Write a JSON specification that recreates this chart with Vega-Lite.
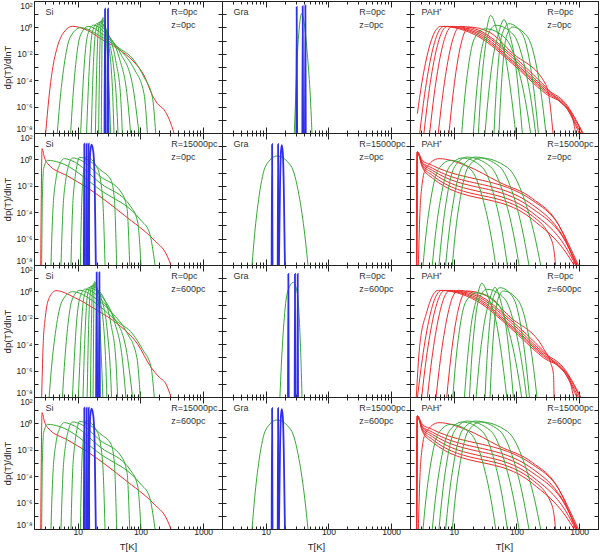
{
"$schema":"https://vega.github.io/schema/vega-lite/v6.json",
"padding":{"left":2,"top":0,"right":2,"bottom":0},
"columns":3,
"spacing":0,
"bounds":"flush",
"config":{
 "font":"Liberation Sans",
 "view":{"stroke":"#222","strokeWidth":1},
 "concat":{"spacing":0},
 "axis":{"grid":false,"domain":false,"tickColor":"#222","tickSize":-4,"labelFontSize":8.5,"labelColor":"#222","labelPadding":6,"titleFontSize":9.5,"titleFontWeight":"normal","titleColor":"#222","titlePadding":3,"labelOverlap":false,"labelFlush":false},
 "text":{"align":"left","baseline":"middle","fontSize":9,"color":"#333"},
 "line":{"interpolate":"monotone","clip":true}
},
"datasets":{
"a":[
{"s":1,"T":3.07,"v":1e-8},{"s":1,"T":3.47,"v":5.2e-6},{"s":1,"T":3.92,"v":5.5e-4},{"s":1,"T":4.71,"v":0.032},{"s":1,"T":6.03,"v":0.45},{"s":1,"T":8.18,"v":1.2},{"s":1,"T":14.2,"v":0.6},{"s":1,"T":23.2,"v":0.14},{"s":1,"T":42.8,"v":0.025},{"s":1,"T":78.9,"v":0.0024},{"s":1,"T":114,"v":2.3e-4},{"s":1,"T":155,"v":7.2e-6},{"s":1,"T":186,"v":1.7e-6},{"s":1,"T":237,"v":5.9e-7},{"s":1,"T":285,"v":1.2e-7},{"s":1,"T":343,"v":1e-8},
{"s":11,"T":4.71,"v":1e-8},{"s":11,"T":5.14,"v":1.6e-6},{"s":11,"T":6.04,"v":1.3e-3},{"s":11,"T":7.57,"v":0.18},{"s":11,"T":11.1,"v":0.95},{"s":11,"T":23.2,"v":0.21},{"s":11,"T":42.8,"v":0.032},{"s":11,"T":78.9,"v":3.2e-3},{"s":11,"T":114,"v":1.7e-4},{"s":11,"T":155,"v":5.2e-6},{"s":11,"T":175,"v":1e-8},
{"s":12,"T":7.69,"v":1e-8},{"s":12,"T":8.22,"v":1.7e-6},{"s":12,"T":9.25,"v":1.5e-3},{"s":12,"T":10.9,"v":0.22},{"s":12,"T":14.6,"v":1.2},{"s":12,"T":26.2,"v":0.25},{"s":12,"T":48.3,"v":0.018},{"s":12,"T":78.9,"v":7.4e-4},{"s":12,"T":114,"v":9.3e-6},{"s":12,"T":129,"v":1e-8},
{"s":13,"T":11.1,"v":1e-8},{"s":13,"T":11.7,"v":1.9e-6},{"s":13,"T":12.7,"v":1.7e-3},{"s":13,"T":14.4,"v":0.28},{"s":13,"T":17.7,"v":1.5},{"s":13,"T":29.6,"v":0.25},{"s":13,"T":48.3,"v":0.01},{"s":13,"T":74.1,"v":5.5e-5},{"s":13,"T":94.6,"v":1e-8},
{"s":14,"T":13.8,"v":1e-8},{"s":14,"T":14.4,"v":2e-6},{"s":14,"T":15.4,"v":2e-3},{"s":14,"T":16.9,"v":0.34},{"s":14,"T":20.0,"v":1.9},{"s":14,"T":29.6,"v":0.34},{"s":14,"T":45.4,"v":5.8e-3},{"s":14,"T":61.7,"v":5.2e-6},{"s":14,"T":69.7,"v":1e-8},
{"s":15,"T":16.4,"v":1e-8},{"s":15,"T":16.9,"v":2.1e-6},{"s":15,"T":17.8,"v":2.3e-3},{"s":15,"T":19.2,"v":0.43},{"s":15,"T":21.8,"v":2.4},{"s":15,"T":29.6,"v":0.45},{"s":15,"T":40.2,"v":3.2e-3},{"s":15,"T":48.3,"v":5.2e-6},{"s":15,"T":51.3,"v":1e-8},
{"s":16,"T":19.1,"v":1e-8},{"s":16,"T":19.5,"v":2.2e-6},{"s":16,"T":20.2,"v":2.7e-3},{"s":16,"T":21.2,"v":0.52},{"s":16,"T":23.2,"v":3.0},{"s":16,"T":28.5,"v":0.3},{"s":16,"T":37.8,"v":5.6e-4},{"s":16,"T":41.7,"v":1.7e-6},{"s":16,"T":43.8,"v":1e-8},
{"s":17,"T":21.5,"v":1e-8},{"s":17,"T":21.8,"v":2.4e-6},{"s":17,"T":22.3,"v":3.2e-3},{"s":17,"T":23.0,"v":0.66},{"s":17,"T":24.3,"v":3.9},{"s":17,"T":29.6,"v":0.19},{"s":17,"T":35.6,"v":3e-5},{"s":17,"T":37.8,"v":1e-8},
{"s":18,"T":23.7,"v":1e-8},{"s":18,"T":23.9,"v":2.7e-6},{"s":18,"T":24.2,"v":3.9e-3},{"s":18,"T":24.5,"v":0.89},{"s":18,"T":25.2,"v":5.5},{"s":18,"T":28.9,"v":0.059},{"s":18,"T":31.8,"v":5.2e-6},{"s":18,"T":33.4,"v":1e-8},
{"s":31,"T":26.7,"v":1e-8},{"s":31,"T":27.2,"v":26},{"s":31,"T":27.7,"v":1e-8},
{"s":32,"T":29.8,"v":1e-8},{"s":32,"T":30.3,"v":26},{"s":32,"T":30.9,"v":1e-8}
],
"b":[
{"s":11,"T":28.5,"v":1e-8},{"s":11,"T":30.0,"v":5.4e-6},{"s":11,"T":31.8,"v":5.7e-3},{"s":11,"T":34.3,"v":1.07},{"s":11,"T":37.3,"v":11},{"s":11,"T":41.1,"v":1.9},{"s":11,"T":45.9,"v":0.01},{"s":11,"T":50.7,"v":1.7e-5},{"s":11,"T":54.6,"v":1e-8},
{"s":31,"T":30.7,"v":1e-8},{"s":31,"T":31.1,"v":35},{"s":31,"T":31.6,"v":1e-8},
{"s":32,"T":38.3,"v":1e-8},{"s":32,"T":38.8,"v":40},{"s":32,"T":39.4,"v":1e-8},
{"s":33,"T":42.2,"v":1e-8},{"s":33,"T":42.8,"v":47},{"s":33,"T":43.4,"v":1e-8}
],
"c":[
{"s":1,"T":2.62,"v":2.9e-7},{"s":1,"T":3.10,"v":6.9e-5},{"s":1,"T":4.02,"v":0.027},{"s":1,"T":5.2,"v":0.66},{"s":1,"T":6.17,"v":1.2},{"s":1,"T":25.2,"v":0.19},{"s":1,"T":85.9,"v":1.8e-3},{"s":1,"T":292,"v":9.5e-6},{"s":1,"T":610,"v":9.3e-7},{"s":1,"T":995,"v":1e-8},
{"s":2,"T":2.86,"v":1e-8},{"s":2,"T":3.42,"v":8.1e-6},{"s":2,"T":4.47,"v":0.0115},{"s":2,"T":5.83,"v":0.58},{"s":2,"T":6.98,"v":1.2},{"s":2,"T":25.2,"v":0.25},{"s":2,"T":85.9,"v":2.4e-3},{"s":2,"T":292,"v":1.3e-5},{"s":2,"T":610,"v":1e-6},{"s":2,"T":1057,"v":1e-8},
{"s":3,"T":3.34,"v":1e-8},{"s":3,"T":3.96,"v":8.1e-6},{"s":3,"T":5.13,"v":0.0115},{"s":3,"T":6.64,"v":0.58},{"s":3,"T":7.87,"v":1.2},{"s":3,"T":25.2,"v":0.33},{"s":3,"T":85.9,"v":3.2e-3},{"s":3,"T":292,"v":1.7e-5},{"s":3,"T":610,"v":1.3e-6},{"s":3,"T":1122,"v":1e-8},
{"s":4,"T":4.12,"v":1e-8},{"s":4,"T":4.86,"v":8.1e-6},{"s":4,"T":6.25,"v":0.0115},{"s":4,"T":8.02,"v":0.58},{"s":4,"T":9.47,"v":1.2},{"s":4,"T":25.2,"v":0.45},{"s":4,"T":85.9,"v":5.1e-3},{"s":4,"T":292,"v":2.3e-5},{"s":4,"T":610,"v":1.7e-6},{"s":4,"T":1151,"v":1e-8},
{"s":5,"T":5.66,"v":1e-8},{"s":5,"T":6.67,"v":8.1e-6},{"s":5,"T":8.53,"v":0.0115},{"s":5,"T":10.9,"v":0.58},{"s":5,"T":12.9,"v":1.2},{"s":5,"T":25.2,"v":0.6},{"s":5,"T":85.9,"v":7.6e-3},{"s":5,"T":292,"v":3.1e-5},{"s":5,"T":525,"v":1.7e-6},{"s":5,"T":731,"v":3.9e-7},{"s":5,"T":880,"v":1e-8},
{"s":6,"T":8.38,"v":1e-8},{"s":6,"T":9.7,"v":7.8e-6},{"s":6,"T":12.1,"v":0.0105},{"s":6,"T":15.1,"v":0.51},{"s":6,"T":17.5,"v":1.07},{"s":6,"T":36.4,"v":0.45},{"s":6,"T":85.9,"v":0.0115},{"s":6,"T":292,"v":4.9e-5},{"s":6,"T":331,"v":5.4e-6},{"s":6,"T":383,"v":1e-8},
{"s":11,"T":13.4,"v":1e-8},{"s":11,"T":14.6,"v":1.5e-6},{"s":11,"T":17.1,"v":1.1e-3},{"s":11,"T":21.4,"v":0.15},{"s":11,"T":31.5,"v":0.79},{"s":11,"T":66.7,"v":0.15},{"s":11,"T":104,"v":1.1e-3},{"s":11,"T":142,"v":1.5e-6},{"s":11,"T":168,"v":1e-8},
{"s":12,"T":20.5,"v":1e-8},{"s":12,"T":22.5,"v":3e-6},{"s":12,"T":26.4,"v":5e-3},{"s":12,"T":32.0,"v":0.3},{"s":12,"T":38.7,"v":8.1},{"s":12,"T":51.1,"v":0.3},{"s":12,"T":67.1,"v":5e-3},{"s":12,"T":84.5,"v":3e-6},{"s":12,"T":97.1,"v":1e-8},
{"s":13,"T":24.7,"v":1e-8},{"s":13,"T":26.3,"v":1.8e-6},{"s":13,"T":29.6,"v":1.7e-3},{"s":13,"T":35.0,"v":0.27},{"s":13,"T":46.6,"v":1.45},{"s":13,"T":89.9,"v":0.27},{"s":13,"T":132,"v":1.7e-3},{"s":13,"T":174,"v":1.8e-6},{"s":13,"T":202,"v":1e-8},
{"s":14,"T":31.5,"v":1e-8},{"s":14,"T":34.9,"v":2.4e-6},{"s":14,"T":41.6,"v":3.2e-3},{"s":14,"T":51.3,"v":0.3},{"s":14,"T":63.2,"v":3.9},{"s":14,"T":77.4,"v":0.3},{"s":14,"T":94.6,"v":3.2e-3},{"s":14,"T":112,"v":2.4e-6},{"s":14,"T":124,"v":1e-8},
{"s":15,"T":43.8,"v":1e-8},{"s":15,"T":46.3,"v":2e-6},{"s":15,"T":51.3,"v":2e-3},{"s":15,"T":59.3,"v":0.34},{"s":15,"T":76.0,"v":1.9},{"s":15,"T":123,"v":0.34},{"s":15,"T":164,"v":2e-3},{"s":15,"T":200,"v":2e-6},{"s":15,"T":224,"v":1e-8},
{"s":16,"T":52.6,"v":1e-8},{"s":16,"T":55.3,"v":1.7e-6},{"s":16,"T":60.7,"v":1.4e-3},{"s":16,"T":69.0,"v":0.2},{"s":16,"T":85.9,"v":1.07},{"s":16,"T":149,"v":0.2},{"s":16,"T":207,"v":1.4e-3},{"s":16,"T":260,"v":1.7e-6},{"s":16,"T":295,"v":1e-8}
],
"d":[
{"s":1,"T":2.56,"v":1e-8},{"s":1,"T":2.69,"v":6.5},{"s":1,"T":2.92,"v":1.5},{"s":1,"T":3.30,"v":0.48},{"s":1,"T":6.89,"v":0.055},{"s":1,"T":14.4,"v":6.8e-3},{"s":1,"T":55.3,"v":5.8e-5},{"s":1,"T":166,"v":7.4e-7},{"s":1,"T":256,"v":7.2e-8},{"s":1,"T":307,"v":1e-8},
{"s":11,"T":2.65,"v":1e-8},{"s":11,"T":2.72,"v":1.1e-3},{"s":11,"T":2.85,"v":0.2},{"s":11,"T":3.30,"v":0.85},{"s":11,"T":5.0,"v":0.6},{"s":11,"T":23.4,"v":4.5e-3},{"s":11,"T":102,"v":2.4e-5},{"s":11,"T":138,"v":3.2e-6},{"s":11,"T":171,"v":1e-8},
{"s":12,"T":3.73,"v":1e-8},{"s":12,"T":3.97,"v":5.8e-5},{"s":12,"T":4.49,"v":0.035},{"s":12,"T":5.07,"v":0.35},{"s":12,"T":6.10,"v":1.14},{"s":12,"T":8.0,"v":0.8},{"s":12,"T":23.4,"v":0.0145},{"s":12,"T":70.6,"v":2.5e-4},{"s":12,"T":90.2,"v":1.8e-5},{"s":12,"T":102,"v":1e-8},
{"s":13,"T":5.39,"v":1e-8},{"s":13,"T":5.74,"v":5.8e-5},{"s":13,"T":6.47,"v":0.035},{"s":13,"T":7.14,"v":0.35},{"s":13,"T":8.28,"v":1.28},{"s":13,"T":11,"v":0.9},{"s":13,"T":23.4,"v":0.047},{"s":13,"T":48.9,"v":3.4e-3},{"s":13,"T":61.0,"v":1.9e-4},{"s":13,"T":67.3,"v":1e-8},
{"s":14,"T":7.78,"v":1e-8},{"s":14,"T":8.18,"v":5.8e-5},{"s":14,"T":9.02,"v":0.035},{"s":14,"T":9.70,"v":0.35},{"s":14,"T":10.6,"v":1.43},{"s":14,"T":14,"v":1.0},{"s":14,"T":23.4,"v":0.15},{"s":14,"T":33.9,"v":0.026},{"s":14,"T":38.3,"v":1.1e-3},{"s":14,"T":41.7,"v":1e-8},
{"s":15,"T":11.0,"v":1e-8},{"s":15,"T":11.4,"v":5.8e-5},{"s":15,"T":12.1,"v":0.035},{"s":15,"T":12.7,"v":0.35},{"s":15,"T":13.5,"v":1.61},{"s":15,"T":20.7,"v":0.2},{"s":15,"T":24.9,"v":1.1e-3},{"s":15,"T":27.2,"v":1e-8},
{"s":31,"T":12.5,"v":1e-8},{"s":31,"T":12.7,"v":15.5},{"s":31,"T":12.9,"v":1e-8},
{"s":32,"T":13.6,"v":1e-8},{"s":32,"T":13.8,"v":15.5},{"s":32,"T":14.1,"v":1e-8},
{"s":33,"T":14.6,"v":1e-8},{"s":33,"T":14.9,"v":15.5},{"s":33,"T":15.2,"v":1e-8},
{"s":34,"T":14.7,"v":1e-8},{"s":34,"T":15.3,"v":0.019},{"s":34,"T":15.8,"v":3.6},{"s":34,"T":16.6,"v":13},{"s":34,"T":17.7,"v":3.6},{"s":34,"T":18.6,"v":0.019},{"s":34,"T":19.4,"v":1e-8}
],
"e":[
{"s":11,"T":6.03,"v":1e-8},{"s":11,"T":6.62,"v":1.9e-6},{"s":11,"T":7.85,"v":1.9e-3},{"s":11,"T":10.0,"v":0.33},{"s":11,"T":15.1,"v":1.8},{"s":11,"T":25.1,"v":0.33},{"s":11,"T":33.9,"v":1.9e-3},{"s":11,"T":41.9,"v":1.9e-6},{"s":11,"T":47.1,"v":1e-8},
{"s":31,"T":12.4,"v":1e-8},{"s":31,"T":12.6,"v":14},{"s":31,"T":12.8,"v":1e-8},
{"s":32,"T":15.5,"v":1e-8},{"s":32,"T":15.7,"v":14},{"s":32,"T":15.9,"v":1e-8},
{"s":33,"T":16.2,"v":1e-8},{"s":33,"T":16.9,"v":0.02},{"s":33,"T":17.4,"v":3},{"s":33,"T":18.0,"v":12},{"s":33,"T":18.7,"v":3},{"s":33,"T":19.3,"v":0.02},{"s":33,"T":20.2,"v":1e-8}
],
"f":[
{"s":1,"T":2.55,"v":1e-8},{"s":1,"T":2.62,"v":3.6},{"s":1,"T":3.15,"v":0.85},{"s":1,"T":4.54,"v":0.35},{"s":1,"T":179,"v":7.9e-4},{"s":1,"T":476,"v":1e-5},{"s":1,"T":778,"v":9.5e-8},{"s":1,"T":971,"v":1e-8},
{"s":2,"T":2.55,"v":1e-8},{"s":2,"T":2.62,"v":3.6},{"s":2,"T":3.15,"v":0.63},{"s":2,"T":4.54,"v":0.22},{"s":2,"T":179,"v":3.7e-4},{"s":2,"T":538,"v":1.8e-6},{"s":2,"T":935,"v":1e-8},
{"s":3,"T":2.55,"v":1e-8},{"s":3,"T":2.62,"v":3.6},{"s":3,"T":3.15,"v":0.5},{"s":3,"T":4.54,"v":0.15},{"s":3,"T":179,"v":1.9e-4},{"s":3,"T":610,"v":5.5e-7},{"s":3,"T":912,"v":1e-8},
{"s":4,"T":2.55,"v":1e-8},{"s":4,"T":2.62,"v":3.6},{"s":4,"T":3.15,"v":0.4},{"s":4,"T":4.54,"v":0.1},{"s":4,"T":179,"v":9.2e-5},{"s":4,"T":610,"v":2.3e-7},{"s":4,"T":880,"v":1e-8},
{"s":5,"T":2.55,"v":1e-8},{"s":5,"T":2.62,"v":3.6},{"s":5,"T":3.15,"v":0.32},{"s":5,"T":4.54,"v":0.062},{"s":5,"T":179,"v":5.2e-5},{"s":5,"T":373,"v":5.5e-7},{"s":5,"T":422,"v":1e-8},
{"s":6,"T":2.55,"v":1e-8},{"s":6,"T":2.62,"v":3.6},{"s":6,"T":3.15,"v":0.25},{"s":6,"T":4.54,"v":0.039},{"s":6,"T":179,"v":2.9e-5},{"s":6,"T":610,"v":9.5e-8},{"s":6,"T":828,"v":1e-8},
{"s":7,"T":2.72,"v":1e-8},{"s":7,"T":2.96,"v":1.1e-3},{"s":7,"T":3.56,"v":0.2},{"s":7,"T":5.80,"v":1.14},{"s":7,"T":15.5,"v":0.35},{"s":7,"T":52.6,"v":0.019},{"s":7,"T":179,"v":1.1e-3},{"s":7,"T":476,"v":1e-5},{"s":7,"T":880,"v":1e-8},
{"s":11,"T":3.23,"v":1e-8},{"s":11,"T":3.58,"v":1.6e-6},{"s":11,"T":4.33,"v":1.2e-3},{"s":11,"T":5.65,"v":0.17},{"s":11,"T":8.91,"v":0.85},{"s":11,"T":18.7,"v":0.17},{"s":11,"T":28.8,"v":1.2e-3},{"s":11,"T":39.3,"v":1.6e-6},{"s":11,"T":46.6,"v":1e-8},
{"s":12,"T":4.54,"v":1e-8},{"s":12,"T":5.08,"v":1.8e-6},{"s":12,"T":6.24,"v":1.5e-3},{"s":12,"T":8.34,"v":0.24},{"s":12,"T":13.7,"v":1.28},{"s":12,"T":28.7,"v":0.24},{"s":12,"T":44.3,"v":1.5e-3},{"s":12,"T":60.3,"v":1.8e-6},{"s":12,"T":71.5,"v":1e-8},
{"s":13,"T":5.80,"v":1e-8},{"s":13,"T":6.46,"v":1.9e-6},{"s":13,"T":7.83,"v":1.7e-3},{"s":13,"T":10.3,"v":0.28},{"s":13,"T":16.4,"v":1.5},{"s":13,"T":38.5,"v":0.28},{"s":13,"T":63.4,"v":1.7e-3},{"s":13,"T":90.2,"v":1.9e-6},{"s":13,"T":110,"v":1e-8},
{"s":14,"T":7.41,"v":1e-8},{"s":14,"T":8.30,"v":1.9e-6},{"s":14,"T":10.2,"v":1.7e-3},{"s":14,"T":13.6,"v":0.28},{"s":14,"T":22.3,"v":1.5},{"s":14,"T":53.7,"v":0.28},{"s":14,"T":89.9,"v":1.7e-3},{"s":14,"T":129,"v":1.9e-6},{"s":14,"T":158,"v":1e-8},
{"s":15,"T":9.47,"v":1e-8},{"s":15,"T":10.5,"v":1.8e-6},{"s":15,"T":12.8,"v":1.5e-3},{"s":15,"T":16.8,"v":0.24},{"s":15,"T":26.9,"v":1.28},{"s":15,"T":72.1,"v":0.24},{"s":15,"T":129,"v":1.5e-3},{"s":15,"T":194,"v":1.8e-6},{"s":15,"T":243,"v":1e-8}
],
"g":[
{"s":1,"T":2.65,"v":1e-8},{"s":1,"T":2.79,"v":5.8e-5},{"s":1,"T":3.03,"v":0.011},{"s":1,"T":3.52,"v":0.35},{"s":1,"T":4.49,"v":1.14},{"s":1,"T":8.83,"v":0.35},{"s":1,"T":20.7,"v":0.035},{"s":1,"T":43.3,"v":3.4e-3},{"s":1,"T":90.2,"v":1e-4},{"s":1,"T":147,"v":1.8e-6},{"s":1,"T":200,"v":3.1e-7},{"s":1,"T":256,"v":9.5e-8},{"s":1,"T":307,"v":1e-8},
{"s":11,"T":3.49,"v":1e-8},{"s":11,"T":3.80,"v":1.6e-6},{"s":11,"T":4.47,"v":1.3e-3},{"s":11,"T":5.60,"v":0.18},{"s":11,"T":8.21,"v":0.95},{"s":11,"T":22.0,"v":0.08},{"s":11,"T":40.7,"v":6e-3},{"s":11,"T":75.0,"v":6e-4},{"s":11,"T":108,"v":4e-5},{"s":11,"T":147,"v":2e-6},{"s":11,"T":166,"v":1e-8},
{"s":12,"T":5.69,"v":1e-8},{"s":12,"T":6.08,"v":1.7e-6},{"s":12,"T":6.85,"v":1.5e-3},{"s":12,"T":8.07,"v":0.22},{"s":12,"T":10.8,"v":1.2},{"s":12,"T":20.2,"v":0.25},{"s":12,"T":37.2,"v":0.018},{"s":12,"T":60.8,"v":7.4e-4},{"s":12,"T":87.8,"v":9.3e-6},{"s":12,"T":99.3,"v":1e-8},
{"s":13,"T":8.21,"v":1e-8},{"s":13,"T":8.66,"v":1.9e-6},{"s":13,"T":9.40,"v":1.7e-3},{"s":13,"T":10.7,"v":0.28},{"s":13,"T":13.1,"v":1.5},{"s":13,"T":23.4,"v":0.25},{"s":13,"T":38.2,"v":0.01},{"s":13,"T":58.5,"v":5.5e-5},{"s":13,"T":74.7,"v":1e-8},
{"s":14,"T":10.2,"v":1e-8},{"s":14,"T":10.7,"v":2e-6},{"s":14,"T":11.4,"v":2e-3},{"s":14,"T":12.5,"v":0.34},{"s":14,"T":14.8,"v":1.9},{"s":14,"T":24.9,"v":0.34},{"s":14,"T":38.1,"v":5.8e-3},{"s":14,"T":51.8,"v":5.2e-6},{"s":14,"T":58.5,"v":1e-8},
{"s":15,"T":12.1,"v":1e-8},{"s":15,"T":12.5,"v":2.1e-6},{"s":15,"T":13.2,"v":2.3e-3},{"s":15,"T":14.2,"v":0.43},{"s":15,"T":16.1,"v":2.4},{"s":15,"T":24.9,"v":0.45},{"s":15,"T":33.8,"v":3.2e-3},{"s":15,"T":40.6,"v":5.2e-6},{"s":15,"T":43.1,"v":1e-8},
{"s":16,"T":14.1,"v":1e-8},{"s":16,"T":14.4,"v":2.2e-6},{"s":16,"T":14.9,"v":2.7e-3},{"s":16,"T":15.7,"v":0.52},{"s":16,"T":17.2,"v":3.0},{"s":16,"T":23.4,"v":0.34},{"s":16,"T":29.9,"v":5.6e-4},{"s":16,"T":32.9,"v":1.7e-6},{"s":16,"T":34.6,"v":1e-8},
{"s":17,"T":15.9,"v":1e-8},{"s":17,"T":16.1,"v":2.4e-6},{"s":17,"T":16.5,"v":3.2e-3},{"s":17,"T":17.0,"v":0.66},{"s":17,"T":18.0,"v":3.9},{"s":17,"T":22.8,"v":0.19},{"s":17,"T":27.4,"v":3e-5},{"s":17,"T":29.1,"v":1e-8},
{"s":18,"T":17.5,"v":1e-8},{"s":18,"T":17.7,"v":2.7e-6},{"s":18,"T":17.9,"v":3.9e-3},{"s":18,"T":18.1,"v":0.89},{"s":18,"T":18.6,"v":5.5},{"s":18,"T":21.7,"v":0.059},{"s":18,"T":23.9,"v":5.2e-6},{"s":18,"T":25.1,"v":1e-8},
{"s":31,"T":19.6,"v":1e-8},{"s":31,"T":20.0,"v":28},{"s":31,"T":20.4,"v":1e-8},
{"s":32,"T":21.7,"v":1e-8},{"s":32,"T":22.1,"v":28},{"s":32,"T":22.5,"v":1e-8}
],
"h":[
{"s":11,"T":16.8,"v":1e-8},{"s":11,"T":17.7,"v":2.6e-6},{"s":11,"T":19.4,"v":3.6e-3},{"s":11,"T":22.1,"v":0.81},{"s":11,"T":27.5,"v":4.9},{"s":11,"T":31.7,"v":0.81},{"s":11,"T":34.5,"v":3.6e-3},{"s":11,"T":36.6,"v":2.6e-6},{"s":11,"T":37.8,"v":1e-8},
{"s":31,"T":22.6,"v":1e-8},{"s":31,"T":22.9,"v":21},{"s":31,"T":23.2,"v":1e-8},
{"s":32,"T":28.9,"v":1e-8},{"s":32,"T":29.2,"v":21},{"s":32,"T":29.5,"v":1e-8},
{"s":33,"T":31.9,"v":1e-8},{"s":33,"T":32.3,"v":21},{"s":33,"T":32.7,"v":1e-8}
],
"i":[
{"s":1,"T":2.52,"v":1e-8},{"s":1,"T":2.85,"v":6.9e-5},{"s":1,"T":3.70,"v":0.027},{"s":1,"T":4.78,"v":0.66},{"s":1,"T":5.68,"v":1.2},{"s":1,"T":23.2,"v":0.19},{"s":1,"T":79,"v":1.8e-3},{"s":1,"T":269,"v":9.5e-6},{"s":1,"T":561,"v":9.3e-7},{"s":1,"T":915,"v":1e-8},
{"s":2,"T":2.63,"v":1e-8},{"s":2,"T":3.15,"v":8.1e-6},{"s":2,"T":4.11,"v":0.0115},{"s":2,"T":5.36,"v":0.58},{"s":2,"T":6.42,"v":1.2},{"s":2,"T":23.2,"v":0.25},{"s":2,"T":79,"v":2.4e-3},{"s":2,"T":269,"v":1.3e-5},{"s":2,"T":561,"v":1e-6},{"s":2,"T":972,"v":1e-8},
{"s":3,"T":3.07,"v":1e-8},{"s":3,"T":3.64,"v":8.1e-6},{"s":3,"T":4.72,"v":0.0115},{"s":3,"T":6.11,"v":0.58},{"s":3,"T":7.24,"v":1.2},{"s":3,"T":23.2,"v":0.33},{"s":3,"T":79,"v":3.2e-3},{"s":3,"T":269,"v":1.7e-5},{"s":3,"T":561,"v":1.3e-6},{"s":3,"T":1032,"v":1e-8},
{"s":4,"T":3.79,"v":1e-8},{"s":4,"T":4.47,"v":8.1e-6},{"s":4,"T":5.75,"v":0.0115},{"s":4,"T":7.38,"v":0.58},{"s":4,"T":8.71,"v":1.2},{"s":4,"T":23.2,"v":0.45},{"s":4,"T":79,"v":5.1e-3},{"s":4,"T":269,"v":2.3e-5},{"s":4,"T":561,"v":1.7e-6},{"s":4,"T":1059,"v":1e-8},
{"s":5,"T":5.21,"v":1e-8},{"s":5,"T":6.14,"v":8.1e-6},{"s":5,"T":7.85,"v":0.0115},{"s":5,"T":10.0,"v":0.58},{"s":5,"T":11.9,"v":1.2},{"s":5,"T":23.2,"v":0.6},{"s":5,"T":79,"v":7.6e-3},{"s":5,"T":269,"v":3.1e-5},{"s":5,"T":483,"v":1.7e-6},{"s":5,"T":673,"v":3.9e-7},{"s":5,"T":810,"v":1e-8},
{"s":6,"T":7.71,"v":1e-8},{"s":6,"T":8.92,"v":7.8e-6},{"s":6,"T":11.1,"v":0.0105},{"s":6,"T":13.9,"v":0.51},{"s":6,"T":16.1,"v":1.07},{"s":6,"T":33.5,"v":0.45},{"s":6,"T":79,"v":0.0115},{"s":6,"T":269,"v":4.9e-5},{"s":6,"T":350,"v":4e-6},{"s":6,"T":390,"v":5e-7},{"s":6,"T":398,"v":1e-8},
{"s":11,"T":9.65,"v":1e-8},{"s":11,"T":10.5,"v":1.5e-6},{"s":11,"T":12.3,"v":1.1e-3},{"s":11,"T":15.4,"v":0.15},{"s":11,"T":22.7,"v":0.79},{"s":11,"T":48.0,"v":0.15},{"s":11,"T":74.9,"v":1.1e-3},{"s":11,"T":102,"v":1.5e-6},{"s":11,"T":121,"v":1e-8},
{"s":12,"T":14.8,"v":1e-8},{"s":12,"T":16.2,"v":2.5e-6},{"s":12,"T":19.0,"v":3.2e-3},{"s":12,"T":23.0,"v":0.25},{"s":12,"T":27.9,"v":4.1},{"s":12,"T":36.8,"v":0.25},{"s":12,"T":48.3,"v":3.2e-3},{"s":12,"T":60.8,"v":2.5e-6},{"s":12,"T":69.9,"v":1e-8},
{"s":13,"T":17.8,"v":1e-8},{"s":13,"T":18.9,"v":1.8e-6},{"s":13,"T":21.3,"v":1.7e-3},{"s":13,"T":25.2,"v":0.27},{"s":13,"T":33.6,"v":1.45},{"s":13,"T":64.7,"v":0.27},{"s":13,"T":95.0,"v":1.7e-3},{"s":13,"T":125,"v":1.8e-6},{"s":13,"T":145,"v":1e-8},
{"s":14,"T":22.7,"v":1e-8},{"s":14,"T":25.1,"v":2e-6},{"s":14,"T":30.0,"v":2.1e-3},{"s":14,"T":36.9,"v":0.2},{"s":14,"T":45.5,"v":2.0},{"s":14,"T":55.7,"v":0.2},{"s":14,"T":68.1,"v":2.1e-3},{"s":14,"T":80.6,"v":2e-6},{"s":14,"T":89.3,"v":1e-8},
{"s":15,"T":31.5,"v":1e-8},{"s":15,"T":33.3,"v":2e-6},{"s":15,"T":36.9,"v":2e-3},{"s":15,"T":42.7,"v":0.34},{"s":15,"T":54.7,"v":1.9},{"s":15,"T":88.6,"v":0.34},{"s":15,"T":118,"v":2e-3},{"s":15,"T":144,"v":2e-6},{"s":15,"T":161,"v":1e-8},
{"s":16,"T":37.9,"v":1e-8},{"s":16,"T":39.8,"v":1.7e-6},{"s":16,"T":43.7,"v":1.4e-3},{"s":16,"T":49.7,"v":0.2},{"s":16,"T":61.8,"v":1.07},{"s":16,"T":107,"v":0.2},{"s":16,"T":149,"v":1.4e-3},{"s":16,"T":187,"v":1.7e-6},{"s":16,"T":212,"v":1e-8}
]
},
"concat":[
{"width":188,"height":132,"resolve":{"axis":{"x":"independent","y":"independent"}},"layer":[
{"data":{"name":"a"},"mark":"line","encoding":{"x":{"field":"T","type":"quantitative","scale":{"type":"log","domain":[2,2000],"nice":false},"axis":{"values":[2,3,4,5,6,7,8,9,10,20,30,40,50,60,70,80,90,100,200,300,400,500,600,700,800,900,1000,2000],"labels":false,"title":null,"tickSize":{"condition":{"test":"datum.value==10||datum.value==100||datum.value==1000","value":-6},"value":-3}}},"y":{"field":"v","type":"quantitative","scale":{"type":"log","domain":[1e-8,100],"nice":false},"axis":{"values":[1e-8,1e-7,1e-6,1e-5,1e-4,1e-3,0.01,0.1,1,10,100],"labelExpr":"['10⁻⁸','','10⁻⁶','','10⁻⁴','','10⁻²','','10⁰','','10²'][round(log(datum.value)/LN10)+8]","labelBaseline":{"condition":[{"test":"datum.value>50","value":"top"},{"test":"datum.value<2e-8","value":"bottom"}],"value":"middle"},"title":"dp(T)/dlnT"}},"detail":{"field":"s","type":"nominal"},"color":{"field":"s","type":"quantitative","scale":{"type":"threshold","domain":[10,30],"range":["#ec2c2c","#35aa35","#2f2fe8"]},"legend":null},"strokeWidth":{"field":"s","type":"quantitative","scale":{"type":"threshold","domain":[30],"range":[1,1.8]},"legend":null}}},
{"data":{"values":[{"n":"Si","R":"R=0pc","z":"z=0pc"}]},"layer":[{"mark":"text","encoding":{"x":{"datum":3.05,"axis":{"values":[2,3,4,5,6,7,8,9,10,20,30,40,50,60,70,80,90,100,200,300,400,500,600,700,800,900,1000,2000],"labels":false,"title":null,"tickSize":{"condition":{"test":"datum.value==10||datum.value==100||datum.value==1000","value":-6},"value":-3}}},"y":{"datum":15,"axis":{"values":[1e-8,1e-7,1e-6,1e-5,1e-4,1e-3,0.01,0.1,1,10,100],"labels":false,"title":null}},"text":{"field":"n"}}},{"mark":"text","encoding":{"x":{"datum":310},"y":{"datum":15},"text":{"field":"R"}}},{"mark":"text","encoding":{"x":{"datum":310},"y":{"datum":1.45},"text":{"field":"z"}}}]}
]},
{"width":188,"height":132,"resolve":{"axis":{"x":"independent","y":"independent"}},"layer":[
{"data":{"name":"b"},"mark":"line","encoding":{"x":{"field":"T","type":"quantitative","scale":{"type":"log","domain":[2,2000],"nice":false},"axis":{"values":[2,3,4,5,6,7,8,9,10,20,30,40,50,60,70,80,90,100,200,300,400,500,600,700,800,900,1000,2000],"labels":false,"title":null,"tickSize":{"condition":{"test":"datum.value==10||datum.value==100||datum.value==1000","value":-6},"value":-3}}},"y":{"field":"v","type":"quantitative","scale":{"type":"log","domain":[1e-8,100],"nice":false},"axis":{"values":[1e-8,1e-7,1e-6,1e-5,1e-4,1e-3,0.01,0.1,1,10,100],"labels":false,"title":null}},"detail":{"field":"s","type":"nominal"},"color":{"field":"s","type":"quantitative","scale":{"type":"threshold","domain":[10,30],"range":["#ec2c2c","#35aa35","#2f2fe8"]},"legend":null},"strokeWidth":{"field":"s","type":"quantitative","scale":{"type":"threshold","domain":[30],"range":[1,1.8]},"legend":null}}},
{"data":{"values":[{"n":"Gra","R":"R=0pc","z":"z=0pc"}]},"layer":[{"mark":"text","encoding":{"x":{"datum":3.05,"axis":{"values":[2,3,4,5,6,7,8,9,10,20,30,40,50,60,70,80,90,100,200,300,400,500,600,700,800,900,1000,2000],"labels":false,"title":null,"tickSize":{"condition":{"test":"datum.value==10||datum.value==100||datum.value==1000","value":-6},"value":-3}}},"y":{"datum":15,"axis":{"values":[1e-8,1e-7,1e-6,1e-5,1e-4,1e-3,0.01,0.1,1,10,100],"labels":false,"title":null}},"text":{"field":"n"}}},{"mark":"text","encoding":{"x":{"datum":310},"y":{"datum":15},"text":{"field":"R"}}},{"mark":"text","encoding":{"x":{"datum":310},"y":{"datum":1.45},"text":{"field":"z"}}}]}
]},
{"width":188,"height":132,"resolve":{"axis":{"x":"independent","y":"independent"}},"layer":[
{"data":{"name":"c"},"mark":"line","encoding":{"x":{"field":"T","type":"quantitative","scale":{"type":"log","domain":[2,2000],"nice":false},"axis":{"values":[2,3,4,5,6,7,8,9,10,20,30,40,50,60,70,80,90,100,200,300,400,500,600,700,800,900,1000,2000],"labels":false,"title":null,"tickSize":{"condition":{"test":"datum.value==10||datum.value==100||datum.value==1000","value":-6},"value":-3}}},"y":{"field":"v","type":"quantitative","scale":{"type":"log","domain":[1e-8,100],"nice":false},"axis":{"values":[1e-8,1e-7,1e-6,1e-5,1e-4,1e-3,0.01,0.1,1,10,100],"labels":false,"title":null}},"detail":{"field":"s","type":"nominal"},"color":{"field":"s","type":"quantitative","scale":{"type":"threshold","domain":[10,30],"range":["#ec2c2c","#35aa35","#2f2fe8"]},"legend":null},"strokeWidth":{"field":"s","type":"quantitative","scale":{"type":"threshold","domain":[30],"range":[1,1.8]},"legend":null}}},
{"data":{"values":[{"n":"PAH⁺","R":"R=0pc","z":"z=0pc"}]},"layer":[{"mark":"text","encoding":{"x":{"datum":3.05,"axis":{"values":[2,3,4,5,6,7,8,9,10,20,30,40,50,60,70,80,90,100,200,300,400,500,600,700,800,900,1000,2000],"labels":false,"title":null,"tickSize":{"condition":{"test":"datum.value==10||datum.value==100||datum.value==1000","value":-6},"value":-3}}},"y":{"datum":15,"axis":{"values":[1e-8,1e-7,1e-6,1e-5,1e-4,1e-3,0.01,0.1,1,10,100],"labels":false,"title":null}},"text":{"field":"n"}}},{"mark":"text","encoding":{"x":{"datum":310},"y":{"datum":15},"text":{"field":"R"}}},{"mark":"text","encoding":{"x":{"datum":310},"y":{"datum":1.45},"text":{"field":"z"}}}]}
]},
{"width":188,"height":132,"resolve":{"axis":{"x":"independent","y":"independent"}},"layer":[
{"data":{"name":"d"},"mark":"line","encoding":{"x":{"field":"T","type":"quantitative","scale":{"type":"log","domain":[2,2000],"nice":false},"axis":{"values":[2,3,4,5,6,7,8,9,10,20,30,40,50,60,70,80,90,100,200,300,400,500,600,700,800,900,1000,2000],"labels":false,"title":null,"tickSize":{"condition":{"test":"datum.value==10||datum.value==100||datum.value==1000","value":-6},"value":-3}}},"y":{"field":"v","type":"quantitative","scale":{"type":"log","domain":[1e-8,100],"nice":false},"axis":{"values":[1e-8,1e-7,1e-6,1e-5,1e-4,1e-3,0.01,0.1,1,10,100],"labelExpr":"['10⁻⁸','','10⁻⁶','','10⁻⁴','','10⁻²','','10⁰','','10²'][round(log(datum.value)/LN10)+8]","labelBaseline":{"condition":[{"test":"datum.value>50","value":"top"},{"test":"datum.value<2e-8","value":"bottom"}],"value":"middle"},"title":"dp(T)/dlnT"}},"detail":{"field":"s","type":"nominal"},"color":{"field":"s","type":"quantitative","scale":{"type":"threshold","domain":[10,30],"range":["#ec2c2c","#35aa35","#2f2fe8"]},"legend":null},"strokeWidth":{"field":"s","type":"quantitative","scale":{"type":"threshold","domain":[30],"range":[1,1.8]},"legend":null}}},
{"data":{"values":[{"n":"Si","R":"R=15000pc","z":"z=0pc"}]},"layer":[{"mark":"text","encoding":{"x":{"datum":3.05,"axis":{"values":[2,3,4,5,6,7,8,9,10,20,30,40,50,60,70,80,90,100,200,300,400,500,600,700,800,900,1000,2000],"labels":false,"title":null,"tickSize":{"condition":{"test":"datum.value==10||datum.value==100||datum.value==1000","value":-6},"value":-3}}},"y":{"datum":15,"axis":{"values":[1e-8,1e-7,1e-6,1e-5,1e-4,1e-3,0.01,0.1,1,10,100],"labels":false,"title":null}},"text":{"field":"n"}}},{"mark":"text","encoding":{"x":{"datum":310},"y":{"datum":15},"text":{"field":"R"}}},{"mark":"text","encoding":{"x":{"datum":310},"y":{"datum":1.45},"text":{"field":"z"}}}]}
]},
{"width":188,"height":132,"resolve":{"axis":{"x":"independent","y":"independent"}},"layer":[
{"data":{"name":"e"},"mark":"line","encoding":{"x":{"field":"T","type":"quantitative","scale":{"type":"log","domain":[2,2000],"nice":false},"axis":{"values":[2,3,4,5,6,7,8,9,10,20,30,40,50,60,70,80,90,100,200,300,400,500,600,700,800,900,1000,2000],"labels":false,"title":null,"tickSize":{"condition":{"test":"datum.value==10||datum.value==100||datum.value==1000","value":-6},"value":-3}}},"y":{"field":"v","type":"quantitative","scale":{"type":"log","domain":[1e-8,100],"nice":false},"axis":{"values":[1e-8,1e-7,1e-6,1e-5,1e-4,1e-3,0.01,0.1,1,10,100],"labels":false,"title":null}},"detail":{"field":"s","type":"nominal"},"color":{"field":"s","type":"quantitative","scale":{"type":"threshold","domain":[10,30],"range":["#ec2c2c","#35aa35","#2f2fe8"]},"legend":null},"strokeWidth":{"field":"s","type":"quantitative","scale":{"type":"threshold","domain":[30],"range":[1,1.8]},"legend":null}}},
{"data":{"values":[{"n":"Gra","R":"R=15000pc","z":"z=0pc"}]},"layer":[{"mark":"text","encoding":{"x":{"datum":3.05,"axis":{"values":[2,3,4,5,6,7,8,9,10,20,30,40,50,60,70,80,90,100,200,300,400,500,600,700,800,900,1000,2000],"labels":false,"title":null,"tickSize":{"condition":{"test":"datum.value==10||datum.value==100||datum.value==1000","value":-6},"value":-3}}},"y":{"datum":15,"axis":{"values":[1e-8,1e-7,1e-6,1e-5,1e-4,1e-3,0.01,0.1,1,10,100],"labels":false,"title":null}},"text":{"field":"n"}}},{"mark":"text","encoding":{"x":{"datum":310},"y":{"datum":15},"text":{"field":"R"}}},{"mark":"text","encoding":{"x":{"datum":310},"y":{"datum":1.45},"text":{"field":"z"}}}]}
]},
{"width":188,"height":132,"resolve":{"axis":{"x":"independent","y":"independent"}},"layer":[
{"data":{"name":"f"},"mark":"line","encoding":{"x":{"field":"T","type":"quantitative","scale":{"type":"log","domain":[2,2000],"nice":false},"axis":{"values":[2,3,4,5,6,7,8,9,10,20,30,40,50,60,70,80,90,100,200,300,400,500,600,700,800,900,1000,2000],"labels":false,"title":null,"tickSize":{"condition":{"test":"datum.value==10||datum.value==100||datum.value==1000","value":-6},"value":-3}}},"y":{"field":"v","type":"quantitative","scale":{"type":"log","domain":[1e-8,100],"nice":false},"axis":{"values":[1e-8,1e-7,1e-6,1e-5,1e-4,1e-3,0.01,0.1,1,10,100],"labels":false,"title":null}},"detail":{"field":"s","type":"nominal"},"color":{"field":"s","type":"quantitative","scale":{"type":"threshold","domain":[10,30],"range":["#ec2c2c","#35aa35","#2f2fe8"]},"legend":null},"strokeWidth":{"field":"s","type":"quantitative","scale":{"type":"threshold","domain":[30],"range":[1,1.8]},"legend":null}}},
{"data":{"values":[{"n":"PAH⁺","R":"R=15000pc","z":"z=0pc"}]},"layer":[{"mark":"text","encoding":{"x":{"datum":3.05,"axis":{"values":[2,3,4,5,6,7,8,9,10,20,30,40,50,60,70,80,90,100,200,300,400,500,600,700,800,900,1000,2000],"labels":false,"title":null,"tickSize":{"condition":{"test":"datum.value==10||datum.value==100||datum.value==1000","value":-6},"value":-3}}},"y":{"datum":15,"axis":{"values":[1e-8,1e-7,1e-6,1e-5,1e-4,1e-3,0.01,0.1,1,10,100],"labels":false,"title":null}},"text":{"field":"n"}}},{"mark":"text","encoding":{"x":{"datum":310},"y":{"datum":15},"text":{"field":"R"}}},{"mark":"text","encoding":{"x":{"datum":310},"y":{"datum":1.45},"text":{"field":"z"}}}]}
]},
{"width":188,"height":132,"resolve":{"axis":{"x":"independent","y":"independent"}},"layer":[
{"data":{"name":"g"},"mark":"line","encoding":{"x":{"field":"T","type":"quantitative","scale":{"type":"log","domain":[2,2000],"nice":false},"axis":{"values":[2,3,4,5,6,7,8,9,10,20,30,40,50,60,70,80,90,100,200,300,400,500,600,700,800,900,1000,2000],"labels":false,"title":null,"tickSize":{"condition":{"test":"datum.value==10||datum.value==100||datum.value==1000","value":-6},"value":-3}}},"y":{"field":"v","type":"quantitative","scale":{"type":"log","domain":[1e-8,100],"nice":false},"axis":{"values":[1e-8,1e-7,1e-6,1e-5,1e-4,1e-3,0.01,0.1,1,10,100],"labelExpr":"['10⁻⁸','','10⁻⁶','','10⁻⁴','','10⁻²','','10⁰','','10²'][round(log(datum.value)/LN10)+8]","labelBaseline":{"condition":[{"test":"datum.value>50","value":"top"},{"test":"datum.value<2e-8","value":"bottom"}],"value":"middle"},"title":"dp(T)/dlnT"}},"detail":{"field":"s","type":"nominal"},"color":{"field":"s","type":"quantitative","scale":{"type":"threshold","domain":[10,30],"range":["#ec2c2c","#35aa35","#2f2fe8"]},"legend":null},"strokeWidth":{"field":"s","type":"quantitative","scale":{"type":"threshold","domain":[30],"range":[1,1.8]},"legend":null}}},
{"data":{"values":[{"n":"Si","R":"R=0pc","z":"z=600pc"}]},"layer":[{"mark":"text","encoding":{"x":{"datum":3.05,"axis":{"values":[2,3,4,5,6,7,8,9,10,20,30,40,50,60,70,80,90,100,200,300,400,500,600,700,800,900,1000,2000],"labels":false,"title":null,"tickSize":{"condition":{"test":"datum.value==10||datum.value==100||datum.value==1000","value":-6},"value":-3}}},"y":{"datum":15,"axis":{"values":[1e-8,1e-7,1e-6,1e-5,1e-4,1e-3,0.01,0.1,1,10,100],"labels":false,"title":null}},"text":{"field":"n"}}},{"mark":"text","encoding":{"x":{"datum":310},"y":{"datum":15},"text":{"field":"R"}}},{"mark":"text","encoding":{"x":{"datum":310},"y":{"datum":1.45},"text":{"field":"z"}}}]}
]},
{"width":188,"height":132,"resolve":{"axis":{"x":"independent","y":"independent"}},"layer":[
{"data":{"name":"h"},"mark":"line","encoding":{"x":{"field":"T","type":"quantitative","scale":{"type":"log","domain":[2,2000],"nice":false},"axis":{"values":[2,3,4,5,6,7,8,9,10,20,30,40,50,60,70,80,90,100,200,300,400,500,600,700,800,900,1000,2000],"labels":false,"title":null,"tickSize":{"condition":{"test":"datum.value==10||datum.value==100||datum.value==1000","value":-6},"value":-3}}},"y":{"field":"v","type":"quantitative","scale":{"type":"log","domain":[1e-8,100],"nice":false},"axis":{"values":[1e-8,1e-7,1e-6,1e-5,1e-4,1e-3,0.01,0.1,1,10,100],"labels":false,"title":null}},"detail":{"field":"s","type":"nominal"},"color":{"field":"s","type":"quantitative","scale":{"type":"threshold","domain":[10,30],"range":["#ec2c2c","#35aa35","#2f2fe8"]},"legend":null},"strokeWidth":{"field":"s","type":"quantitative","scale":{"type":"threshold","domain":[30],"range":[1,1.8]},"legend":null}}},
{"data":{"values":[{"n":"Gra","R":"R=0pc","z":"z=600pc"}]},"layer":[{"mark":"text","encoding":{"x":{"datum":3.05,"axis":{"values":[2,3,4,5,6,7,8,9,10,20,30,40,50,60,70,80,90,100,200,300,400,500,600,700,800,900,1000,2000],"labels":false,"title":null,"tickSize":{"condition":{"test":"datum.value==10||datum.value==100||datum.value==1000","value":-6},"value":-3}}},"y":{"datum":15,"axis":{"values":[1e-8,1e-7,1e-6,1e-5,1e-4,1e-3,0.01,0.1,1,10,100],"labels":false,"title":null}},"text":{"field":"n"}}},{"mark":"text","encoding":{"x":{"datum":310},"y":{"datum":15},"text":{"field":"R"}}},{"mark":"text","encoding":{"x":{"datum":310},"y":{"datum":1.45},"text":{"field":"z"}}}]}
]},
{"width":188,"height":132,"resolve":{"axis":{"x":"independent","y":"independent"}},"layer":[
{"data":{"name":"i"},"mark":"line","encoding":{"x":{"field":"T","type":"quantitative","scale":{"type":"log","domain":[2,2000],"nice":false},"axis":{"values":[2,3,4,5,6,7,8,9,10,20,30,40,50,60,70,80,90,100,200,300,400,500,600,700,800,900,1000,2000],"labels":false,"title":null,"tickSize":{"condition":{"test":"datum.value==10||datum.value==100||datum.value==1000","value":-6},"value":-3}}},"y":{"field":"v","type":"quantitative","scale":{"type":"log","domain":[1e-8,100],"nice":false},"axis":{"values":[1e-8,1e-7,1e-6,1e-5,1e-4,1e-3,0.01,0.1,1,10,100],"labels":false,"title":null}},"detail":{"field":"s","type":"nominal"},"color":{"field":"s","type":"quantitative","scale":{"type":"threshold","domain":[10,30],"range":["#ec2c2c","#35aa35","#2f2fe8"]},"legend":null},"strokeWidth":{"field":"s","type":"quantitative","scale":{"type":"threshold","domain":[30],"range":[1,1.8]},"legend":null}}},
{"data":{"values":[{"n":"PAH⁺","R":"R=0pc","z":"z=600pc"}]},"layer":[{"mark":"text","encoding":{"x":{"datum":3.05,"axis":{"values":[2,3,4,5,6,7,8,9,10,20,30,40,50,60,70,80,90,100,200,300,400,500,600,700,800,900,1000,2000],"labels":false,"title":null,"tickSize":{"condition":{"test":"datum.value==10||datum.value==100||datum.value==1000","value":-6},"value":-3}}},"y":{"datum":15,"axis":{"values":[1e-8,1e-7,1e-6,1e-5,1e-4,1e-3,0.01,0.1,1,10,100],"labels":false,"title":null}},"text":{"field":"n"}}},{"mark":"text","encoding":{"x":{"datum":310},"y":{"datum":15},"text":{"field":"R"}}},{"mark":"text","encoding":{"x":{"datum":310},"y":{"datum":1.45},"text":{"field":"z"}}}]}
]},
{"width":188,"height":132,"resolve":{"axis":{"x":"independent","y":"independent"}},"layer":[
{"data":{"name":"d"},"mark":"line","encoding":{"x":{"field":"T","type":"quantitative","scale":{"type":"log","domain":[2,2000],"nice":false},"axis":{"values":[2,3,4,5,6,7,8,9,10,20,30,40,50,60,70,80,90,100,200,300,400,500,600,700,800,900,1000,2000],"format":"d","labelExpr":"datum.value==10||datum.value==100||datum.value==1000?datum.label:''","labelPadding":4,"title":"T[K]","tickSize":{"condition":{"test":"datum.value==10||datum.value==100||datum.value==1000","value":-6},"value":-3}}},"y":{"field":"v","type":"quantitative","scale":{"type":"log","domain":[1e-8,100],"nice":false},"axis":{"values":[1e-8,1e-7,1e-6,1e-5,1e-4,1e-3,0.01,0.1,1,10,100],"labelExpr":"['10⁻⁸','','10⁻⁶','','10⁻⁴','','10⁻²','','10⁰','','10²'][round(log(datum.value)/LN10)+8]","labelBaseline":{"condition":[{"test":"datum.value>50","value":"top"},{"test":"datum.value<2e-8","value":"bottom"}],"value":"middle"},"title":"dp(T)/dlnT"}},"detail":{"field":"s","type":"nominal"},"color":{"field":"s","type":"quantitative","scale":{"type":"threshold","domain":[10,30],"range":["#ec2c2c","#35aa35","#2f2fe8"]},"legend":null},"strokeWidth":{"field":"s","type":"quantitative","scale":{"type":"threshold","domain":[30],"range":[1,1.8]},"legend":null}}},
{"data":{"values":[{"n":"Si","R":"R=15000pc","z":"z=600pc"}]},"layer":[{"mark":"text","encoding":{"x":{"datum":3.05,"axis":{"values":[2,3,4,5,6,7,8,9,10,20,30,40,50,60,70,80,90,100,200,300,400,500,600,700,800,900,1000,2000],"labels":false,"title":null,"tickSize":{"condition":{"test":"datum.value==10||datum.value==100||datum.value==1000","value":-6},"value":-3}}},"y":{"datum":15,"axis":{"values":[1e-8,1e-7,1e-6,1e-5,1e-4,1e-3,0.01,0.1,1,10,100],"labels":false,"title":null}},"text":{"field":"n"}}},{"mark":"text","encoding":{"x":{"datum":310},"y":{"datum":15},"text":{"field":"R"}}},{"mark":"text","encoding":{"x":{"datum":310},"y":{"datum":1.45},"text":{"field":"z"}}}]}
]},
{"width":188,"height":132,"resolve":{"axis":{"x":"independent","y":"independent"}},"layer":[
{"data":{"name":"e"},"mark":"line","encoding":{"x":{"field":"T","type":"quantitative","scale":{"type":"log","domain":[2,2000],"nice":false},"axis":{"values":[2,3,4,5,6,7,8,9,10,20,30,40,50,60,70,80,90,100,200,300,400,500,600,700,800,900,1000,2000],"format":"d","labelExpr":"datum.value==10||datum.value==100||datum.value==1000?datum.label:''","labelPadding":4,"title":"T[K]","tickSize":{"condition":{"test":"datum.value==10||datum.value==100||datum.value==1000","value":-6},"value":-3}}},"y":{"field":"v","type":"quantitative","scale":{"type":"log","domain":[1e-8,100],"nice":false},"axis":{"values":[1e-8,1e-7,1e-6,1e-5,1e-4,1e-3,0.01,0.1,1,10,100],"labels":false,"title":null}},"detail":{"field":"s","type":"nominal"},"color":{"field":"s","type":"quantitative","scale":{"type":"threshold","domain":[10,30],"range":["#ec2c2c","#35aa35","#2f2fe8"]},"legend":null},"strokeWidth":{"field":"s","type":"quantitative","scale":{"type":"threshold","domain":[30],"range":[1,1.8]},"legend":null}}},
{"data":{"values":[{"n":"Gra","R":"R=15000pc","z":"z=600pc"}]},"layer":[{"mark":"text","encoding":{"x":{"datum":3.05,"axis":{"values":[2,3,4,5,6,7,8,9,10,20,30,40,50,60,70,80,90,100,200,300,400,500,600,700,800,900,1000,2000],"labels":false,"title":null,"tickSize":{"condition":{"test":"datum.value==10||datum.value==100||datum.value==1000","value":-6},"value":-3}}},"y":{"datum":15,"axis":{"values":[1e-8,1e-7,1e-6,1e-5,1e-4,1e-3,0.01,0.1,1,10,100],"labels":false,"title":null}},"text":{"field":"n"}}},{"mark":"text","encoding":{"x":{"datum":310},"y":{"datum":15},"text":{"field":"R"}}},{"mark":"text","encoding":{"x":{"datum":310},"y":{"datum":1.45},"text":{"field":"z"}}}]}
]},
{"width":188,"height":132,"resolve":{"axis":{"x":"independent","y":"independent"}},"layer":[
{"data":{"name":"f"},"mark":"line","encoding":{"x":{"field":"T","type":"quantitative","scale":{"type":"log","domain":[2,2000],"nice":false},"axis":{"values":[2,3,4,5,6,7,8,9,10,20,30,40,50,60,70,80,90,100,200,300,400,500,600,700,800,900,1000,2000],"format":"d","labelExpr":"datum.value==10||datum.value==100||datum.value==1000?datum.label:''","labelPadding":4,"title":"T[K]","tickSize":{"condition":{"test":"datum.value==10||datum.value==100||datum.value==1000","value":-6},"value":-3}}},"y":{"field":"v","type":"quantitative","scale":{"type":"log","domain":[1e-8,100],"nice":false},"axis":{"values":[1e-8,1e-7,1e-6,1e-5,1e-4,1e-3,0.01,0.1,1,10,100],"labels":false,"title":null}},"detail":{"field":"s","type":"nominal"},"color":{"field":"s","type":"quantitative","scale":{"type":"threshold","domain":[10,30],"range":["#ec2c2c","#35aa35","#2f2fe8"]},"legend":null},"strokeWidth":{"field":"s","type":"quantitative","scale":{"type":"threshold","domain":[30],"range":[1,1.8]},"legend":null}}},
{"data":{"values":[{"n":"PAH⁺","R":"R=15000pc","z":"z=600pc"}]},"layer":[{"mark":"text","encoding":{"x":{"datum":3.05,"axis":{"values":[2,3,4,5,6,7,8,9,10,20,30,40,50,60,70,80,90,100,200,300,400,500,600,700,800,900,1000,2000],"labels":false,"title":null,"tickSize":{"condition":{"test":"datum.value==10||datum.value==100||datum.value==1000","value":-6},"value":-3}}},"y":{"datum":15,"axis":{"values":[1e-8,1e-7,1e-6,1e-5,1e-4,1e-3,0.01,0.1,1,10,100],"labels":false,"title":null}},"text":{"field":"n"}}},{"mark":"text","encoding":{"x":{"datum":310},"y":{"datum":15},"text":{"field":"R"}}},{"mark":"text","encoding":{"x":{"datum":310},"y":{"datum":1.45},"text":{"field":"z"}}}]}
]}
]
}
